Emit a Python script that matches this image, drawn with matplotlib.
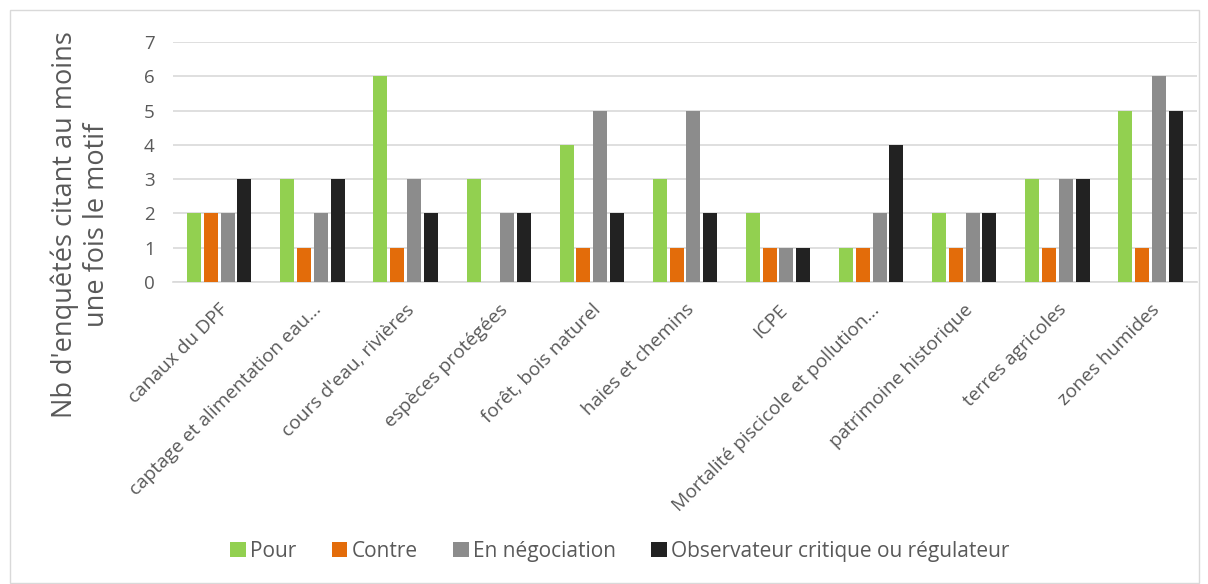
import matplotlib.pyplot as plt
import numpy as np
from matplotlib.patches import Rectangle
from matplotlib.transforms import ScaledTranslation

categories = [
    "canaux du DPF",
    "captage et alimentation eau…",
    "cours d'eau, rivières",
    "espèces protégées",
    "forêt, bois naturel",
    "haies et chemins",
    "ICPE",
    "Mortalité piscicole et pollution…",
    "patrimoine historique",
    "terres agricoles",
    "zones humides",
]
pour = [2, 3, 6, 3, 4, 3, 2, 1, 2, 3, 5]
contre = [2, 1, 1, 0, 1, 1, 1, 1, 1, 1, 1]
negociation = [2, 2, 3, 2, 5, 5, 1, 2, 2, 3, 6]
observateur = [3, 3, 2, 2, 2, 2, 1, 4, 2, 3, 5]

series = [
    ("Pour", pour, "#92D050"),
    ("Contre", contre, "#E36C0A"),
    ("En négociation", negociation, "#8C8C8C"),
    ("Observateur critique ou régulateur", observateur, "#222222"),
]

plt.rcParams["font.family"] = ["Open Sans", "DejaVu Sans"]
txt = "#595959"

fig = plt.figure(figsize=(12.08, 5.84), dpi=100)
ax = fig.add_axes([0.143, 0.517, 0.848, 0.411])

x = np.arange(len(categories))
w = 0.15
step = 0.18
for i, (name, vals, col) in enumerate(series):
    ax.bar(x + (i - 1.5) * step, vals, w, color=col, label=name, zorder=3)

ax.set_xlim(-0.5, len(categories) - 0.5)
ax.set_ylim(0, 7)
ax.set_yticks(range(8))
ax.yaxis.grid(True, color="#D9D9D9", linewidth=1.2, zorder=0)
for s in ["top", "right", "left"]:
    ax.spines[s].set_visible(False)
ax.spines["bottom"].set_color("#D9D9D9")
ax.spines["bottom"].set_linewidth(1.2)
ax.tick_params(axis="both", length=0, colors=txt, labelsize=13.5)
ax.tick_params(axis="y", pad=13)
ax.set_xticks(x)
ax.set_xticklabels(categories, rotation=45, ha="right", va="center",
                   rotation_mode="anchor", fontsize=13.8)
ax.tick_params(axis="x", pad=18)
shift = ScaledTranslation(6 / 100, 0, fig.dpi_scale_trans)
for lab in ax.get_xticklabels():
    lab.set_transform(lab.get_transform() + shift)
ax.set_ylabel("Nb d'enquêtés citant au moins\nune fois le motif", fontsize=19.5, color=txt)
ax.yaxis.set_label_coords(-0.06, 0.24)

fig.legend(loc="center", bbox_to_anchor=(0.513, 0.056), ncol=4, frameon=False,
           fontsize=15, handlelength=0.75, handleheight=0.75, handletextpad=0.2,
           columnspacing=1.7, labelcolor=txt)

fig.patches.append(Rectangle((10 / 1208, 1 / 584), 1189 / 1208, 573 / 584,
                             transform=fig.transFigure, fill=False,
                             edgecolor="#D9D9D9", linewidth=1))

fig.savefig("out.png", dpi=100)
